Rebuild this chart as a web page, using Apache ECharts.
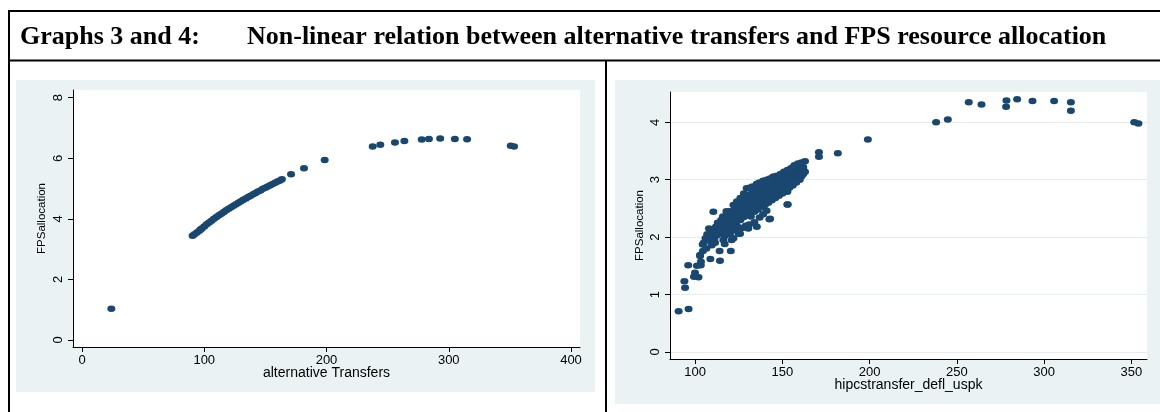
<!DOCTYPE html>
<html>
<head>
<meta charset="utf-8">
<style>
  html, body { margin: 0; padding: 0; background: #fff; }
  #main { width: 1160px; height: 412px; }
</style>
<script src="https://cdn.jsdelivr.net/npm/echarts@6/dist/echarts.min.js"></script>
</head>
<body>
<div id="main"></div>
<script>
// Graph 3: alternative transfers vs FPS allocation
const altTicksX = [0, 100, 200, 300, 400];
const altTicksY = [0, 2, 4, 6, 8];
const altTransfers = [
  24, 90.5, 92, 94, 96, 97, 98, 100, 102, 104, 106, 108, 110, 112, 114, 116, 118, 120,
  122, 124, 126, 128, 130, 132, 134, 136, 138, 140, 142, 144, 146, 148, 150, 152,
  154, 156, 158, 160, 162, 163.5, 171, 181.6, 198.5, 237.8, 244, 256, 263.7, 277.9,
  283.8, 293, 305, 315, 350.7, 353.4
];
const altFps = [
  1.03, 3.44, 3.49, 3.55, 3.61, 3.65, 3.68, 3.75, 3.82, 3.88, 3.94, 4.00, 4.06, 4.12, 4.17, 4.23, 4.28, 4.33,
  4.38, 4.43, 4.48, 4.53, 4.58, 4.63, 4.67, 4.72, 4.76, 4.81, 4.85, 4.90, 4.94, 4.99, 5.03, 5.07,
  5.11, 5.15, 5.19, 5.23, 5.27, 5.31, 5.47, 5.67, 5.94, 6.39, 6.45, 6.52, 6.57, 6.62,
  6.64, 6.65, 6.64, 6.63, 6.41, 6.39
];

// Graph 4: hipcstransfer_defl_uspk vs FPS allocation
const hipcTicksX = [100, 150, 200, 250, 300, 350];
const hipcTicksY = [0, 1, 2, 3, 4];
const hipcTransfer = [
  90.6, 96.3, 93.9, 94.3, 96.1, 100, 99.4, 102, 101.1, 103.3, 102.9, 103.4, 108.8, 114.3, 114.1, 120.5, 104.5,
  104.4, 109.6, 102.9, 112.4, 110.5, 113.9, 115.3, 118.2, 116.2, 121, 122, 125.8, 122.9, 122.9, 125.8, 130.5,
  135.4, 143, 142.6, 152.9, 153.1, 128.7, 135.4, 149.7, 156.3, 163, 162.1, 158.3, 152.9, 141.1, 144.9,
  171, 171, 181.8, 199, 238.1, 244.8, 256.8, 264.1, 278.4, 278.2, 284.5, 293.3, 305.7, 315.3, 315.3, 351.6, 354,
  105, 106, 107, 108, 109, 110, 111, 111, 113, 115, 117, 119, 120, 123, 125, 127, 129, 131, 134, 137, 139, 141,
  112, 113, 114, 115, 116, 116, 117, 118, 118, 119, 119, 120, 120, 121, 121, 122, 122, 123, 123, 124, 124,
  125, 125, 126, 126, 127, 127, 128, 128, 129, 129, 130, 130, 130, 131, 131, 132, 132, 132, 133, 133,
  134, 134, 134, 135, 135, 136, 136, 136, 137, 137, 138, 138, 138, 139, 139, 140, 140, 140, 141, 141,
  142, 142, 142, 143, 143, 144, 144, 144, 145, 145, 146, 146, 146, 147, 147, 148, 148, 148, 149, 149,
  150, 150, 150, 151, 151, 152, 152, 152, 153, 153, 154, 154, 154, 155, 155, 156, 156, 156, 157, 157,
  158, 158, 158, 159, 159, 160, 160, 160, 161, 161, 162, 162, 163,
  124, 126, 128, 129.6, 131, 133, 135.4, 137, 139, 141, 143, 144.9, 147, 149, 151, 153, 155, 157, 159, 161, 122,
  106.5, 108, 111.5, 117, 119.5, 124, 118, 121.5
];
const hipcFps = [
  0.71, 0.75, 1.23, 1.12, 1.51, 1.38, 1.31, 1.30, 1.50, 1.51, 1.67, 1.57, 1.62, 1.59, 1.76, 1.76, 1.76,
  1.87, 1.86, 1.69, 2.03, 2.44, 2.11, 2.27, 2.38, 1.95, 1.95, 1.98, 2.06, 2.12, 2.30, 2.53, 2.15,
  2.18, 2.32, 2.31, 2.79, 2.57, 2.73, 2.53, 3.08, 3.22, 3.32, 3.17, 3.02, 2.57, 2.96, 3.05,
  3.48, 3.40, 3.46, 3.70, 4.00, 4.05, 4.35, 4.31, 4.38, 4.27, 4.40, 4.37, 4.37, 4.35, 4.20, 4.00, 3.98,
  1.90, 1.98, 2.05, 1.94, 2.10, 2.02, 2.12, 1.96, 2.05, 2.08, 2.02, 2.12, 2.05, 2.12, 2.06, 2.16, 2.20, 2.22, 2.26, 2.34, 2.40, 2.46,
  2.18, 2.25, 2.15, 2.30, 2.20, 2.36, 2.27, 2.14, 2.32, 2.40, 2.22, 2.28, 2.45, 2.35, 2.18, 2.40, 2.26, 2.50, 2.33, 2.20, 2.44,
  2.38, 2.55, 2.30, 2.47, 2.42, 2.60, 2.35, 2.52, 2.45, 2.64, 2.40, 2.56, 2.70, 2.48, 2.62, 2.36, 2.55, 2.75, 2.50, 2.66,
  2.44, 2.60, 2.80, 2.55, 2.70, 2.48, 2.64, 2.82, 2.58, 2.74, 2.52, 2.68, 2.85, 2.62, 2.78, 2.56, 2.72, 2.88, 2.66, 2.82,
  2.60, 2.76, 2.92, 2.70, 2.86, 2.64, 2.80, 2.95, 2.74, 2.90, 2.68, 2.84, 3.00, 2.78, 2.94, 2.72, 2.88, 3.02, 2.82, 2.97,
  2.76, 2.92, 3.06, 2.86, 3.00, 2.82, 2.96, 3.10, 2.90, 3.04, 2.86, 3.00, 3.14, 2.94, 3.08, 2.90, 3.04, 3.18, 2.98, 3.12,
  2.95, 3.08, 3.22, 3.02, 3.15, 3.00, 3.12, 3.25, 3.06, 3.18, 3.10, 3.22, 3.14,
  2.62, 2.68, 2.76, 2.85, 2.86, 2.88, 2.93, 2.95, 2.98, 3.00, 3.02, 3.05, 3.07, 3.10, 3.14, 3.17, 3.20, 3.25, 3.28, 3.30, 2.56,
  1.80, 2.15, 1.90, 1.88, 2.28, 2.30, 2.45, 2.22
];

const navy = '#1a476f';
const panelBg = '#eaf2f3';
const sans = 'Liberation Sans, Arial, sans-serif';
const serifBold = 'bold 26px "Liberation Serif", "Times New Roman", serif';

function pairs(xs, ys) {
  return xs.map(function (x, i) { return [x, ys[i]]; });
}

function valueAxis(grid, min, max, ticks, extra) {
  return Object.assign({
    type: 'value',
    gridIndex: grid,
    min: min,
    max: max,
    axisLine: { show: true, onZero: false, lineStyle: { color: '#000', width: 1 } },
    axisTick: { show: true, length: 5, customValues: ticks, lineStyle: { color: '#000' } },
    axisLabel: { customValues: ticks, color: '#000', fontFamily: sans, fontSize: 13 },
    splitLine: { show: false },
    nameTextStyle: { color: '#000', fontFamily: sans, fontSize: 14 },
    nameLocation: 'middle',
    nameMoveOverlap: false
  }, extra);
}

const chart = echarts.init(document.getElementById('main'), null, { renderer: 'canvas' });

const option = {
  backgroundColor: '#fff',
  animation: false,
  grid: [
    { left: 73, top: 90, width: 507, height: 257, show: true, backgroundColor: '#fff', borderWidth: 0 },
    { left: 670, top: 92, width: 477, height: 267, show: true, backgroundColor: '#fff', borderWidth: 0 }
  ],
  xAxis: [
    valueAxis(0, -7.36, 407.36, altTicksX, { name: 'alternative Transfers', nameGap: 19,
      axisLabel: { customValues: altTicksX, color: '#000', fontFamily: sans, fontSize: 13, margin: 7 } }),
    valueAxis(1, 85.67, 358.9, hipcTicksX, { name: 'hipcstransfer_defl_uspk', nameGap: 19,
      axisLabel: { customValues: hipcTicksX, color: '#000', fontFamily: sans, fontSize: 13, margin: 7 } })
  ],
  yAxis: [
    valueAxis(0, -0.231, 8.254, altTicksY, { name: 'FPSallocation', nameGap: 25,
      nameTextStyle: { color: '#000', fontFamily: sans, fontSize: 11.5 },
      axisLabel: { customValues: altTicksY, color: '#000', fontFamily: sans, fontSize: 13, rotate: 90, margin: 8 } }),
    valueAxis(1, -0.122, 4.527, hipcTicksY, { name: 'FPSallocation', nameGap: 24,
      nameTextStyle: { color: '#000', fontFamily: sans, fontSize: 11.5 },
      axisLabel: { customValues: hipcTicksY, color: '#000', fontFamily: sans, fontSize: 13, rotate: 90, margin: 8 },
      splitLine: { show: true, lineStyle: { color: '#e3ecee', width: 1 } } })
  ],
  series: [
    {
      type: 'scatter', xAxisIndex: 0, yAxisIndex: 0,
      symbol: 'circle', symbolSize: [8, 6.5],
      itemStyle: { color: navy, opacity: 1 },
      data: pairs(altTransfers, altFps)
    },
    {
      type: 'scatter', xAxisIndex: 1, yAxisIndex: 1,
      symbol: 'circle', symbolSize: [8, 6.5],
      itemStyle: { color: navy, opacity: 1 },
      data: pairs(hipcTransfer, hipcFps)
    }
  ],
  graphic: [
    // grey-blue graph regions behind each plot
    { type: 'rect', z: -5, shape: { x: 16, y: 80, width: 579, height: 312 }, style: { fill: panelBg } },
    { type: 'rect', z: -5, shape: { x: 615, y: 80, width: 545, height: 324 }, style: { fill: panelBg } },
    // table frame
    { type: 'line', z: 20, shape: { x1: 8, y1: 11, x2: 1160, y2: 11 }, style: { stroke: '#000', lineWidth: 2 } },
    { type: 'line', z: 20, shape: { x1: 8, y1: 60.5, x2: 1160, y2: 60.5 }, style: { stroke: '#000', lineWidth: 2 } },
    { type: 'line', z: 20, shape: { x1: 9, y1: 10, x2: 9, y2: 412 }, style: { stroke: '#000', lineWidth: 2 } },
    { type: 'line', z: 20, shape: { x1: 606, y1: 60, x2: 606, y2: 412 }, style: { stroke: '#000', lineWidth: 2 } },
    // title
    { type: 'text', z: 20, x: 20, y: 37,
      style: { text: 'Graphs 3 and 4:', fill: '#000', font: serifBold, verticalAlign: 'middle' } },
    { type: 'text', z: 20, x: 247, y: 37,
      style: { text: 'Non-linear relation between alternative transfers and FPS resource allocation', fill: '#000',
        font: serifBold, verticalAlign: 'middle' } }
  ]
};

chart.setOption(option);
</script>
</body>
</html>
